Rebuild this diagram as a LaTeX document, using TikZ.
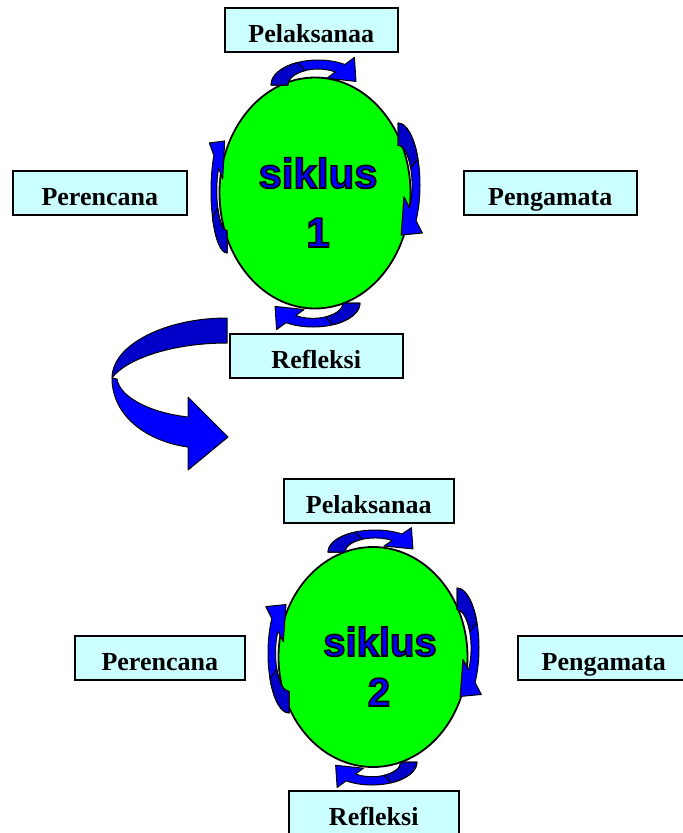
\documentclass[tikz,border=0pt]{standalone}
\usepackage{fontspec}
\setmainfont{Liberation Serif}
\newfontfamily\sikfont{Liberation Sans}
\usetikzlibrary{shapes.geometric}

\definecolor{boxcyan}{RGB}{204,255,255}
\definecolor{cycgreen}{RGB}{0,255,0}
\definecolor{arrblue}{RGB}{0,0,255}
\definecolor{arrdark}{RGB}{0,0,200}

% blue letters with a black outline
\newcommand{\outlined}[1]{\textcolor{arrblue}{\special{pdf:literal direct 0 0 0 RG 1.6 w 2 Tr}#1\special{pdf:literal direct 0 Tr}}}

\tikzset{
  stagebox/.style={draw, line width=1.5pt, fill=boxcyan, inner sep=0pt, anchor=north west,
    text height=35pt, text depth=9pt, font=\fontsize{26}{30}\selectfont\bfseries},
  cycellipse/.style={ellipse, draw, line width=1.8pt, fill=cycgreen, inner sep=0pt},
  siktext/.style={anchor=base, inner sep=0pt},
}

% curved block arrow around a cycle: centre, rotation, half length, height
\newcommand{\cycarrow}[4]{%
  \begin{scope}[shift={#1}, rotate=#2, xscale=#3, yscale=#4]
    \filldraw[fill=arrblue, line width=1pt, line join=round]
      (180:1) arc[start angle=180, end angle=305, radius=1] -- (305:1.35) -- (350:0.82)
      -- (305:0.33) -- (305:0.64) arc[start angle=305, end angle=180, radius=0.64] -- cycle;
    \filldraw[fill=arrdark, line width=1pt, line join=round]
      (180:1) arc[start angle=180, end angle=245, radius=1]
      -- (245:0.64) arc[start angle=245, end angle=180, radius=0.64] -- cycle;
  \end{scope}}

\begin{document}
\begin{tikzpicture}[x=1pt, y=-1pt]
    \useasboundingbox (0,0) rectangle (683,833);

    % siklus 1
    \node[cycellipse, minimum width=191pt, minimum height=231pt] (cyc1) at (315,193) {};
    \cycarrow{(318,85)}{0}{47}{25}
    \cycarrow{(398,185)}{-90}{62}{22}
    \cycarrow{(313,303)}{180}{47}{24}
    \cycarrow{(227,191)}{90}{62}{16}
    \node[siktext] (sik1) at (318,188) {\sikfont\bfseries\fontsize{42}{50}\selectfont\outlined{siklus}};
    \node[siktext] (num1) at (318,247) {\sikfont\bfseries\fontsize{42}{50}\selectfont\outlined{1}};

    \node[stagebox, minimum width=173pt] (pel1) at (224,7) {Pelaksanaa};
    \node[stagebox, minimum width=174pt] (per1) at (12,170) {Perencana};
    \node[stagebox, minimum width=173pt] (pen1) at (463,170) {Pengamata};
    \node[stagebox, minimum width=173pt] (ref1) at (229,333) {Refleksi};

    % arrow to the next cycle
    \filldraw[fill=arrblue, line width=1pt, line join=round]
      (112,378) .. controls (112,418) and (150,442) .. (188,447) -- (188,470) -- (228,437)
      -- (188,397) -- (188,417) .. controls (152,413) and (120,398) .. (117,379) -- cycle;
    \filldraw[fill=arrdark, line width=1pt, line join=round]
      (227,318) .. controls (165,318) and (112,345) .. (112,378)
      .. controls (125,360) and (170,343) .. (227,343) -- cycle;

    % siklus 2
    \node[cycellipse, minimum width=189pt, minimum height=220pt] (cyc2) at (373,657) {};
    \cycarrow{(375,552)}{0}{47}{22}
    \cycarrow{(457,648)}{-90}{60}{22}
    \cycarrow{(372,762)}{180}{45}{23}
    \cycarrow{(289,653)}{90}{60}{21}
    \node[siktext] (sik2) at (380,656) {\sikfont\bfseries\fontsize{40}{48}\selectfont\outlined{siklus}};
    \node[siktext] (num2) at (379,706) {\sikfont\bfseries\fontsize{40}{48}\selectfont\outlined{2}};

    \node[stagebox, minimum width=170pt] (pel2) at (283,478) {Pelaksanaa};
    \node[stagebox, minimum width=170pt] (per2) at (74,635) {Perencana};
    \node[stagebox, minimum width=172pt] (pen2) at (517,635) {Pengamata};
    \node[stagebox, minimum width=170pt] (ref2) at (288,790) {Refleksi};
\end{tikzpicture}
\end{document}
